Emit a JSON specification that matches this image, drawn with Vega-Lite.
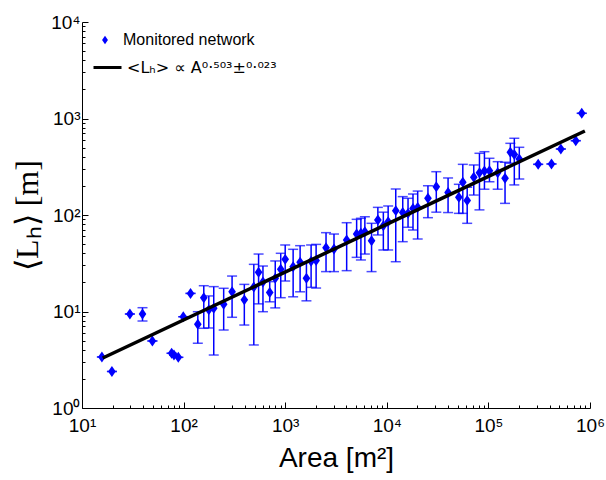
{
  "$schema": "https://vega.github.io/schema/vega-lite/v6.json",
  "autosize": {"type": "none"},
  "width": 508,
  "height": 386,
  "padding": {"left": 82, "top": 22, "right": 16, "bottom": 72},
  "background": "white",
  "config": {
    "view": {"stroke": null},
    "axis": {
      "grid": false,
      "domainColor": "black",
      "domainWidth": 1,
      "tickColor": "black",
      "tickWidth": 1,
      "labelColor": "black",
      "labelFont": "Liberation Sans",
      "labelFontSize": 19,
      "titleColor": "black",
      "titleFontWeight": "normal",
      "labelOverlap": false,
      "labelFlush": false
    }
  },
  "datasets": {
    "pts": [
      {"x": 15.7, "y": 3.38, "lo": 3.38, "hi": 3.38},
      {"x": 19.7, "y": 2.39, "lo": 2.39, "hi": 2.39},
      {"x": 29.6, "y": 9.42, "lo": 9.42, "hi": 9.42},
      {"x": 39.4, "y": 9.42, "lo": 7.97, "hi": 10.95},
      {"x": 49.3, "y": 4.95, "lo": 4.95, "hi": 4.95},
      {"x": 76.2, "y": 3.69, "lo": 3.69, "hi": 3.69},
      {"x": 80.4, "y": 3.54, "lo": 3.54, "hi": 3.54},
      {"x": 88.7, "y": 3.35, "lo": 3.35, "hi": 3.35},
      {"x": 99.3, "y": 8.83, "lo": 8.83, "hi": 8.83},
      {"x": 117, "y": 15.4, "lo": 15.4, "hi": 15.4},
      {"x": 138, "y": 7.37, "lo": 4.69, "hi": 9.95},
      {"x": 158, "y": 13.9, "lo": 6.7, "hi": 18.5},
      {"x": 177, "y": 10.4, "lo": 6.75, "hi": 14.5},
      {"x": 198, "y": 10.8, "lo": 3.54, "hi": 18.1},
      {"x": 248, "y": 11.9, "lo": 6.43, "hi": 17.4},
      {"x": 300, "y": 16.0, "lo": 8.71, "hi": 23.3},
      {"x": 396, "y": 13.2, "lo": 7.24, "hi": 19.1},
      {"x": 491, "y": 17.9, "lo": 4.5, "hi": 30.8},
      {"x": 547, "y": 25.5, "lo": 12.0, "hi": 39.4},
      {"x": 604, "y": 20.2, "lo": 9.95, "hi": 29.6},
      {"x": 704, "y": 15.7, "lo": 12.6, "hi": 20.4},
      {"x": 798, "y": 22.1, "lo": 10.9, "hi": 33.4},
      {"x": 904, "y": 27.4, "lo": 13.9, "hi": 40.1},
      {"x": 1000, "y": 34.7, "lo": 20.7, "hi": 48.9},
      {"x": 1197, "y": 29.1, "lo": 14.2, "hi": 44.1},
      {"x": 1402, "y": 32.4, "lo": 16.0, "hi": 48.1},
      {"x": 1618, "y": 22.1, "lo": 12.9, "hi": 32.4},
      {"x": 1799, "y": 33.2, "lo": 17.8, "hi": 48.9},
      {"x": 2015, "y": 33.8, "lo": 17.5, "hi": 49.6},
      {"x": 2523, "y": 45.8, "lo": 25.9, "hi": 65.6},
      {"x": 3022, "y": 44.4, "lo": 25.9, "hi": 63.5},
      {"x": 4027, "y": 55.1, "lo": 26.5, "hi": 83.2},
      {"x": 5048, "y": 63.5, "lo": 36.4, "hi": 90.2},
      {"x": 5560, "y": 64.6, "lo": 34.2, "hi": 92.4},
      {"x": 6082, "y": 67.1, "lo": 39.4, "hi": 95.9},
      {"x": 7079, "y": 54.2, "lo": 25.9, "hi": 82.0},
      {"x": 8166, "y": 88.8, "lo": 62.1, "hi": 120},
      {"x": 9247, "y": 77.5, "lo": 43.4, "hi": 107},
      {"x": 10310, "y": 85.3, "lo": 43.4, "hi": 124},
      {"x": 12250, "y": 111, "lo": 32.8, "hi": 186},
      {"x": 14350, "y": 106, "lo": 52.9, "hi": 155},
      {"x": 16180, "y": 104, "lo": 74.6, "hi": 149},
      {"x": 18110, "y": 117, "lo": 69.9, "hi": 165},
      {"x": 20140, "y": 120, "lo": 56.4, "hi": 177},
      {"x": 25410, "y": 149, "lo": 93.8, "hi": 201},
      {"x": 30700, "y": 196, "lo": 107, "hi": 281},
      {"x": 40090, "y": 171, "lo": 106, "hi": 242},
      {"x": 51170, "y": 153, "lo": 104, "hi": 208},
      {"x": 55990, "y": 218, "lo": 104, "hi": 335},
      {"x": 61840, "y": 141, "lo": 82.0, "hi": 194},
      {"x": 71780, "y": 246, "lo": 161, "hi": 330},
      {"x": 81660, "y": 274, "lo": 113, "hi": 436},
      {"x": 91420, "y": 286, "lo": 185, "hi": 453},
      {"x": 102400, "y": 288, "lo": 221, "hi": 387},
      {"x": 123400, "y": 274, "lo": 185, "hi": 357},
      {"x": 145800, "y": 240, "lo": 132, "hi": 352},
      {"x": 164400, "y": 447, "lo": 344, "hi": 553},
      {"x": 179900, "y": 424, "lo": 205, "hi": 624},
      {"x": 201400, "y": 380, "lo": 236, "hi": 503},
      {"x": 309000, "y": 335, "lo": 335, "hi": 335},
      {"x": 417800, "y": 338, "lo": 338, "hi": 338},
      {"x": 516500, "y": 483, "lo": 483, "hi": 483},
      {"x": 724400, "y": 589, "lo": 589, "hi": 589},
      {"x": 829600, "y": 1132, "lo": 1132, "hi": 1132}
    ],
    "fit": [
      {"x": 16, "y": 3.3},
      {"x": 890000, "y": 742}
    ]
  },
  "layer": [
    {
      "data": {"name": "pts"},
      "mark": {"type": "errorbar", "ticks": true, "size": 10, "thickness": 1.5, "color": "#0000ff"},
      "encoding": {
        "x": {
          "field": "x", "type": "quantitative",
          "scale": {"type": "log", "domain": [10, 1000000], "nice": false},
          "axis": {
            "title": "Area [m²]",
            "titleFont": "Liberation Sans",
            "titleFontSize": 28,
            "titlePadding": 6,
            "values": [10,20,30,40,50,60,70,80,90,100,200,300,400,500,600,700,800,900,1000,2000,3000,4000,5000,6000,7000,8000,9000,10000,20000,30000,40000,50000,60000,70000,80000,90000,100000,200000,300000,400000,500000,600000,700000,800000,900000,1000000],
            "labelExpr": "datum.value==10?'10¹':datum.value==100?'10²':datum.value==1000?'10³':datum.value==10000?'10⁴':datum.value==100000?'10⁵':datum.value==1000000?'10⁶':''",
            "tickSize": {"condition": {"test": "abs(log(datum.value)/LN10 - round(log(datum.value)/LN10)) < 0.000001", "value": -6}, "value": -3},
            "labelPadding": 14
          }
        },
        "y": {
          "field": "lo", "type": "quantitative",
          "scale": {"type": "log", "domain": [1, 10000], "nice": false},
          "axis": {
            "title": "⟨Lₕ⟩ [m]",
            "titleFont": "Liberation Serif",
            "titleFontSize": 32,
            "titlePadding": 6,
            "values": [1,2,3,4,5,6,7,8,9,10,20,30,40,50,60,70,80,90,100,200,300,400,500,600,700,800,900,1000,2000,3000,4000,5000,6000,7000,8000,9000,10000],
            "labelExpr": "datum.value==1?'10⁰':datum.value==10?'10¹':datum.value==100?'10²':datum.value==1000?'10³':datum.value==10000?'10⁴':''",
            "tickSize": {"condition": {"test": "abs(log(datum.value)/LN10 - round(log(datum.value)/LN10)) < 0.000001", "value": -6}, "value": -3},
            "labelPadding": 8
          }
        },
        "y2": {"field": "hi"}
      }
    },
    {
      "data": {"name": "pts"},
      "mark": {"type": "point", "filled": true, "size": 120, "opacity": 1, "color": "#0000ff"},
      "encoding": {
        "x": {"field": "x", "type": "quantitative"},
        "y": {"field": "y", "type": "quantitative"},
        "shape": {
          "datum": "Monitored network",
          "scale": {"domain": ["Monitored network"], "range": ["M0,-1L0.7,0L0,1L-0.7,0Z"]},
          "legend": {
            "title": null,
            "orient": "none",
            "legendX": 15,
            "legendY": 10,
            "padding": 0,
            "labelFont": "Liberation Sans",
            "labelFontSize": 16,
            "labelColor": "black",
            "labelOffset": 10,
            "symbolSize": 70,
            "symbolFillColor": "#0000ff",
            "symbolStrokeColor": "#0000ff",
            "symbolStrokeWidth": 0,
            "symbolOpacity": 1
          }
        }
      }
    },
    {
      "data": {"name": "fit"},
      "mark": {"type": "line", "strokeWidth": 3.5},
      "encoding": {
        "x": {"field": "x", "type": "quantitative"},
        "y": {"field": "y", "type": "quantitative"},
        "color": {
          "datum": "<Lₕ> ∝ A⁰·⁵⁰³±⁰·⁰²³",
          "scale": {"domain": ["<Lₕ> ∝ A⁰·⁵⁰³±⁰·⁰²³"], "range": ["#000000"]},
          "legend": {
            "title": null,
            "orient": "none",
            "legendX": 10,
            "legendY": 30,
            "padding": 0,
            "labelFont": "DejaVu Sans",
            "labelFontSize": 16,
            "labelColor": "black",
            "labelOffset": 4,
            "symbolType": "stroke",
            "symbolSize": 784,
            "symbolStrokeWidth": 3,
            "symbolOpacity": 1
          }
        }
      }
    }
  ]
}
